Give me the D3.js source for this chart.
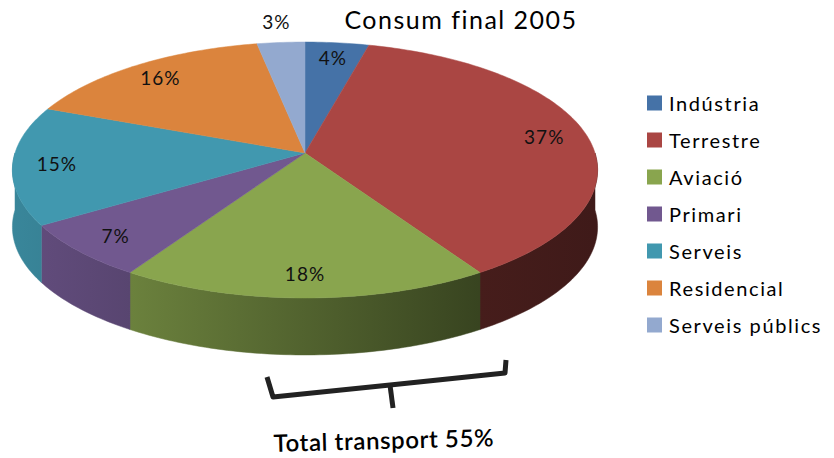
<!DOCTYPE html>
<html>
<head>
<meta charset="utf-8">
<script src="https://cdn.jsdelivr.net/npm/d3@7"></script>
<style>
  body { margin: 0; background: #fff; }
  text { font-family: Lato, "Open Sans", sans-serif; }
</style>
</head>
<body>
<div id="chart"></div>
<script>
(function () {
  let categories = ['Indústria', 'Terrestre', 'Aviació', 'Primari', 'Serveis', 'Residencial', 'Serveis públics'];
  let values = [4, 37, 18, 7, 15, 16, 3];
  let colors = ['#4572a7', '#aa4643', '#89a54e', '#71588f', '#4198af', '#db843d', '#93a9cf'];
  let title = 'Consum final 2005';
  let note = 'Total transport 55%';

  let width = 834,
    height = 458;

  let svg = d3.select('#chart').append('svg')
    .attr('width', width)
    .attr('height', height);

  // pie geometry (perspective tilt)
  let cx = 305, cy = 153;
  let rx = 290, ry = 125.7;
  let dist = 7.53;
  let depth = 57;

  let xScale = d3.scaleLinear().domain([-1, 1]).range([cx - rx, cx + rx]);
  let yScale = d3.scaleLinear().domain([-1, 1]).range([cy - ry, cy + ry]);

  function project(a, k, dz) {
    let X = k * Math.sin(a), Z = -k * Math.cos(a);
    let s = dist / (dist - Z);
    return [xScale(X * s), yScale(Z * s) + (dz || 0)];
  }

  function arcPoints(a0, a1, dz) {
    let pts = [];
    let n = Math.max(2, Math.ceil((a1 - a0) / (Math.PI / 180)));
    for (let i = 0; i <= n; i++) {
      pts.push(project(a0 + (a1 - a0) * i / n, 1, dz));
    }
    return pts;
  }

  let pie = d3.pie().sort(null).value((d) => d)
    .startAngle(0).endAngle(2 * Math.PI);
  let arcs = pie(values);

  let defs = svg.append('defs');
  let shade = [[0, 0.88], [0.2, 0.78], [0.8, 0.41], [1, 0.37]];
  colors.forEach((c, i) => {
    let g = defs.append('linearGradient')
      .attr('id', 'side' + i)
      .attr('gradientUnits', 'userSpaceOnUse')
      .attr('x1', xScale(-1)).attr('x2', xScale(1))
      .attr('y1', 0).attr('y2', 0);
    let base = d3.rgb(c);
    shade.forEach((s) => {
      g.append('stop')
        .attr('offset', s[0])
        .attr('stop-color', d3.rgb(base.r * s[1], base.g * s[1], base.b * s[1]).formatHex());
    });
  });

  let line = d3.line();

  // side walls (front half only)
  let sides = svg.append('g');
  arcs.forEach((d, i) => {
    let a0 = Math.max(d.startAngle, Math.PI / 2);
    let a1 = Math.min(d.endAngle, 3 * Math.PI / 2);
    if (a1 <= a0) return;
    let top = arcPoints(a0, a1, 0);
    let bottom = arcPoints(a0, a1, depth).reverse();
    sides.append('path')
      .attr('d', line(top.concat(bottom)) + 'Z')
      .attr('fill', 'url(#side' + i + ')')
      .attr('stroke', 'url(#side' + i + ')')
      .attr('stroke-width', 0.5);
  });

  // top faces
  svg.append('g').selectAll('path.slice')
    .data(arcs).enter()
    .append('path')
    .attr('class', 'slice')
    .attr('d', (d) => line([[cx, cy]].concat(arcPoints(d.startAngle, d.endAngle, 0))) + 'Z')
    .attr('fill', (d, i) => colors[i])
    .attr('stroke', (d, i) => colors[i])
    .attr('stroke-width', 0.5);

  // percentage labels (last, thin slice labelled outside)
  let labelPos = (d, i) => project((d.startAngle + d.endAngle) / 2, i === arcs.length - 1 ? 1.22 : 0.85);
  svg.append('g').selectAll('text.pct')
    .data(arcs).enter()
    .append('text')
    .attr('class', 'pct')
    .attr('x', (d, i) => labelPos(d, i)[0])
    .attr('y', (d, i) => labelPos(d, i)[1])
    .attr('text-anchor', 'middle')
    .attr('dominant-baseline', 'central')
    .attr('fill', '#111')
    .style('font-size', '19px')
    .style('letter-spacing', '1px')
    .text((d) => d.data + '%');

  // title
  svg.append('text')
    .attr('x', 461)
    .attr('y', 29)
    .attr('text-anchor', 'middle')
    .attr('fill', '#000')
    .style('font-size', '25px')
    .style('letter-spacing', '1.5px')
    .text(title);

  // legend
  let legend = svg.append('g').selectAll('g.legend')
    .data(categories).enter()
    .append('g')
    .attr('class', 'legend')
    .attr('transform', (d, i) => 'translate(647,' + (103 + i * 37) + ')');

  legend.append('rect')
    .attr('x', 0).attr('y', -7.5)
    .attr('width', 15).attr('height', 15)
    .attr('fill', (d, i) => colors[i]);

  legend.append('text')
    .attr('x', 22)
    .attr('y', 0)
    .attr('dominant-baseline', 'central')
    .attr('fill', '#000')
    .style('font-size', '20px')
    .style('letter-spacing', '1.6px')
    .text((d) => d);

  // transport bracket
  let bracket = [[267, 377], [273, 397], [390, 385], [505, 373], [506, 360]];
  svg.append('path')
    .attr('d', line(bracket))
    .attr('fill', 'none')
    .attr('stroke', '#222')
    .attr('stroke-width', 5)
    .attr('stroke-linejoin', 'round');
  svg.append('path')
    .attr('d', line([[390, 385], [393, 408]]))
    .attr('fill', 'none')
    .attr('stroke', '#222')
    .attr('stroke-width', 5);

  svg.append('text')
    .attr('x', 384)
    .attr('y', 449)
    .attr('text-anchor', 'middle')
    .attr('transform', 'rotate(-1.5,384,449)')
    .attr('fill', '#000')
    .style('font-size', '24px')
    .style('font-weight', 600)
    .style('letter-spacing', '0.6px')
    .text(note);
})();
</script>
</body>
</html>
